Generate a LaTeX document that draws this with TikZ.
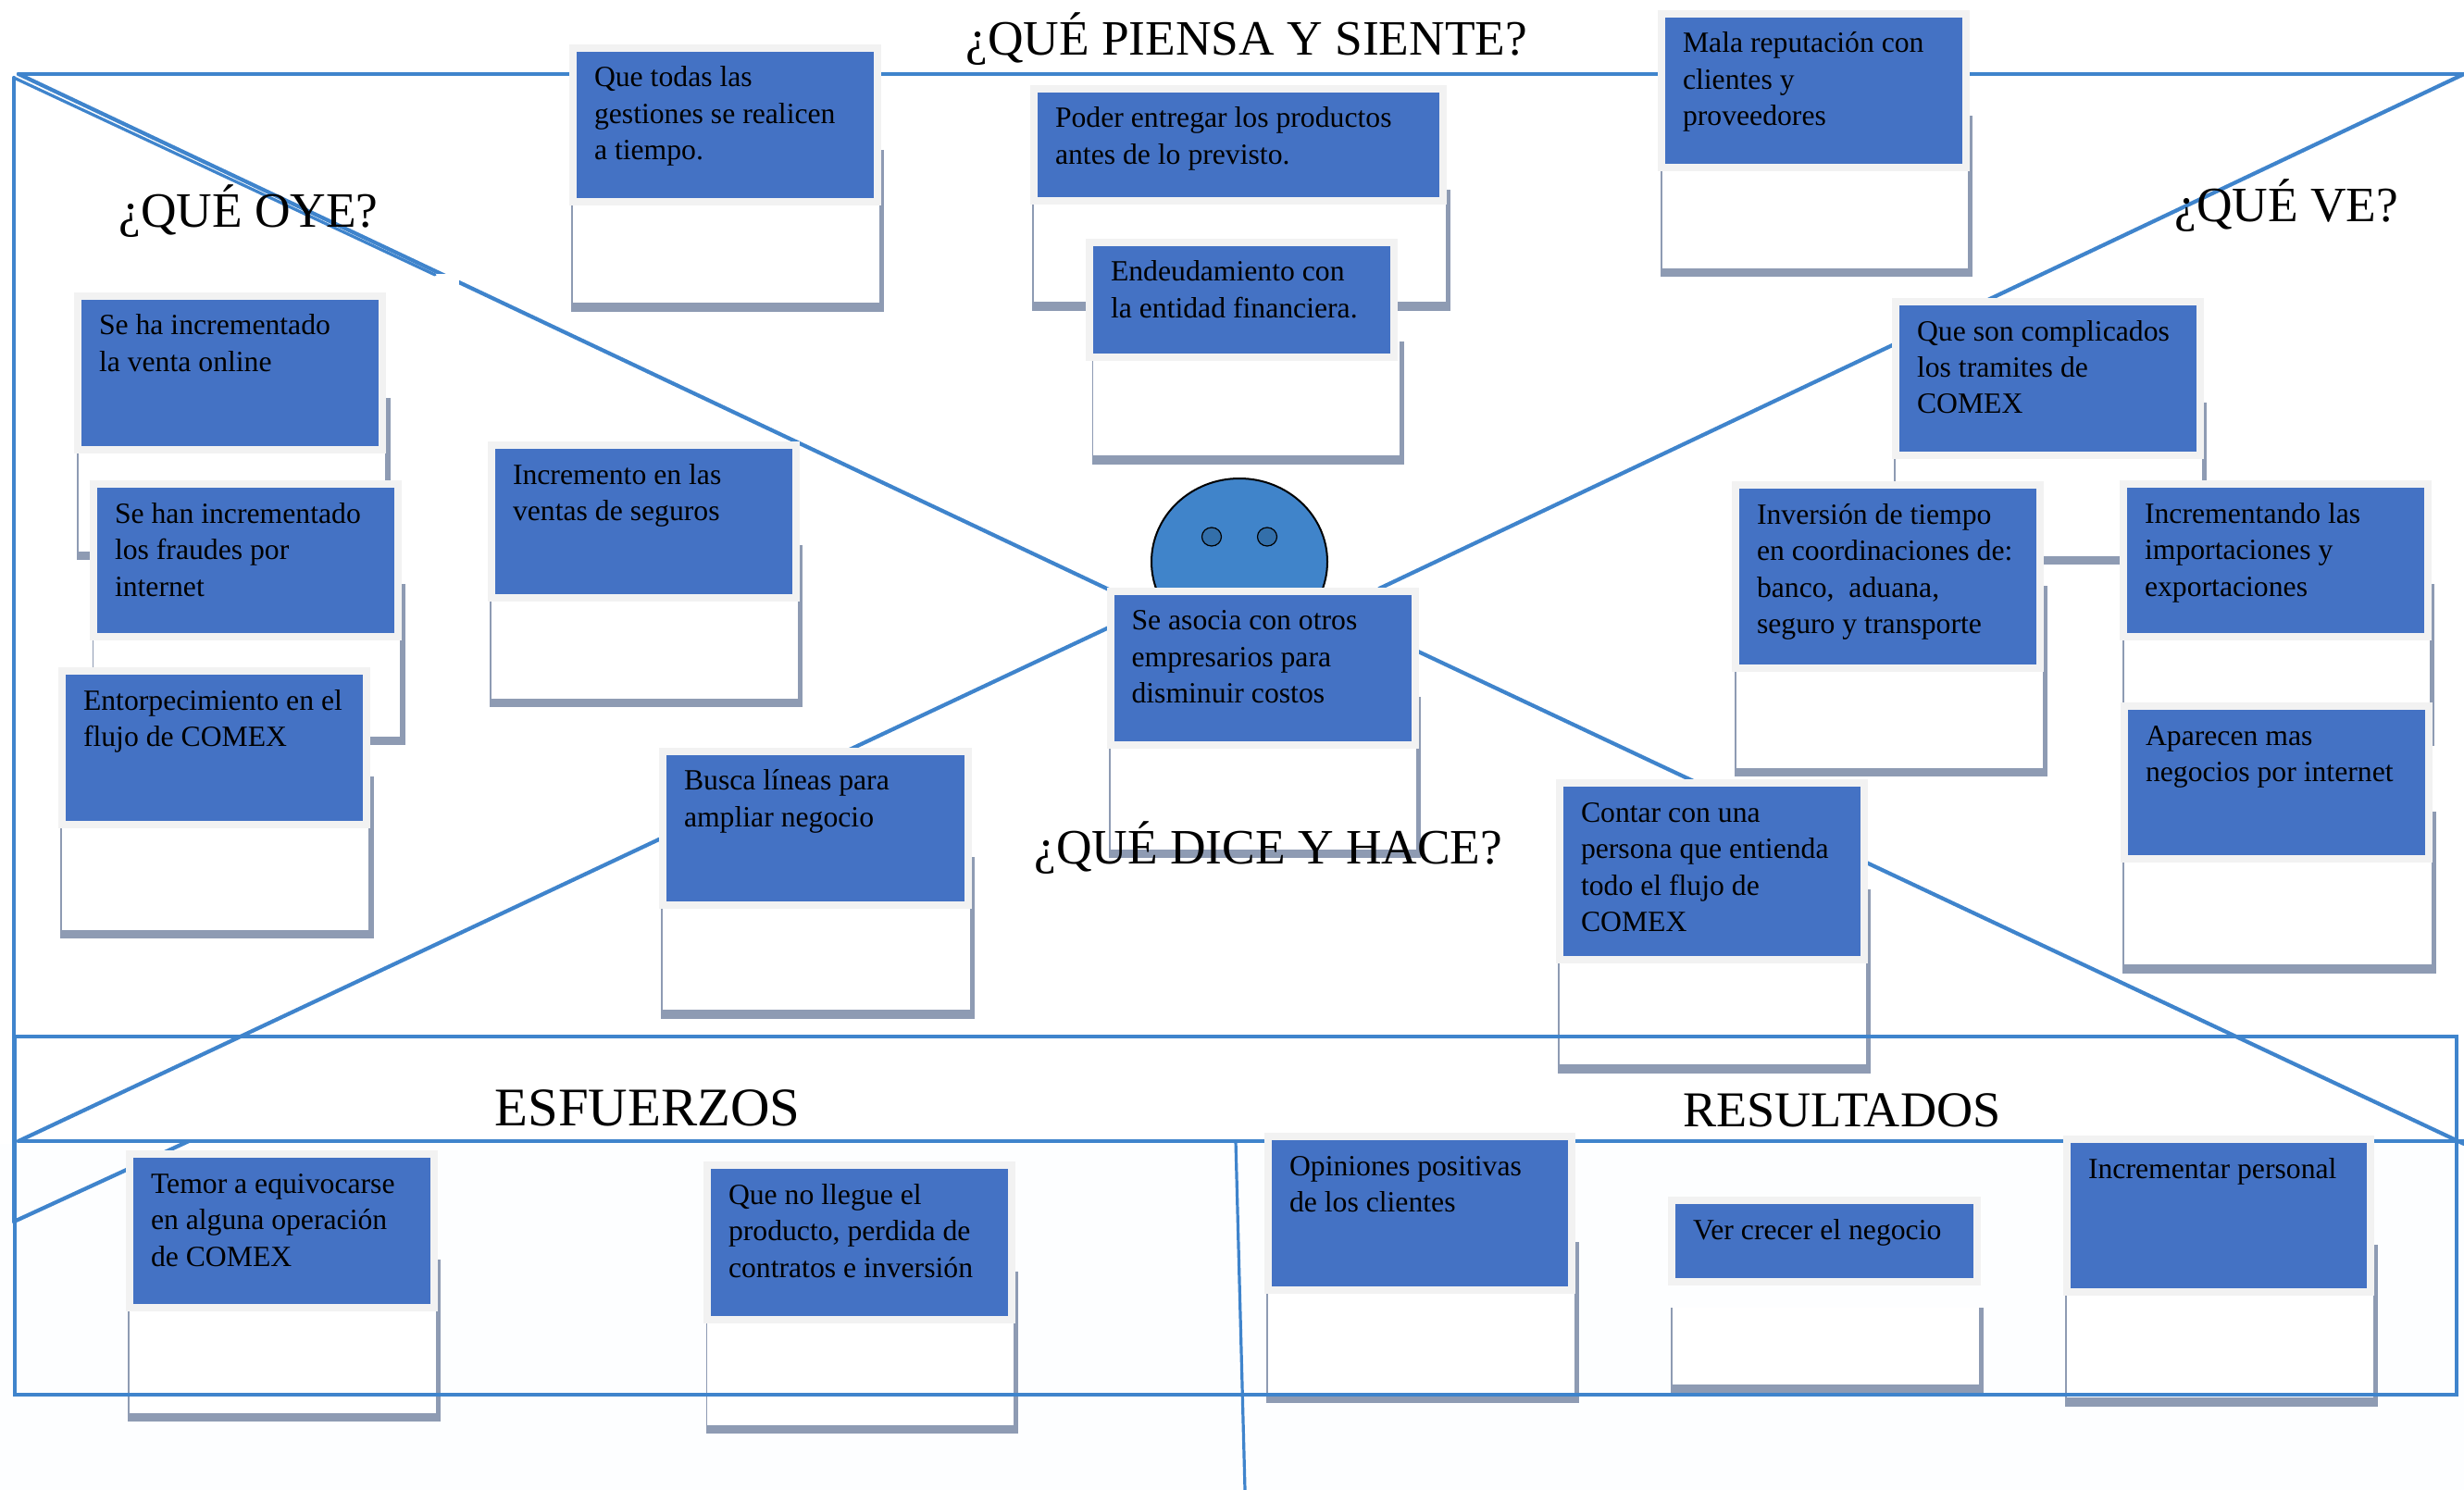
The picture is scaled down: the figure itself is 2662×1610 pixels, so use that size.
\documentclass[tikz,border=0pt]{standalone}
\usepackage{fontspec}
\setmainfont{Liberation Serif}
\definecolor{cardblue}{HTML}{4472C4}
\definecolor{cardedge}{HTML}{F2F2F2}
\definecolor{shadowc}{HTML}{8E9BB3}
\definecolor{framec}{HTML}{3F84CC}
\definecolor{headc}{HTML}{4084CA}
\definecolor{eyec}{HTML}{336FAA}
\definecolor{tint}{HTML}{FDFEFF}
\tikzset{
  cardbox/.style={draw=cardedge,line width=4pt,fill=cardblue,inner sep=0pt,outer sep=0pt,text=black,font=\fontsize{15.85}{19.75}\selectfont},
  framepath/.style={draw=framec,line width=2.1pt,line cap=round},
  titletext/.style={anchor=base west,inner sep=0pt,font=\fontsize{26.7}{30}\selectfont},
  bigtitle/.style={anchor=base west,inner sep=0pt,font=\fontsize{29.4}{32}\selectfont},
  restitle/.style={anchor=base west,inner sep=0pt,font=\fontsize{27.1}{30}\selectfont}
}
\newcommand\shbox[4]{\fill[shadowc] (#1,#2) rectangle (#3,#4);\fill[white] ({#1+1.5},#2) rectangle ({#3-5.5},{#4-9.5});}
\newcommand\card[6]{%
  \pgfmathsetmacro\cw{(#4-8)*0.5}\pgfmathsetmacro\ch{(#5-8)*0.5}%
  \node[cardbox] (#1) at ({#2+#4/2},{#3+#5/2}) {\parbox[c][\ch pt][t]{\cw pt}{\raggedright\leftskip=11.5pt\rule{0pt}{21pt}#6}};}
\begin{document}
\begin{tikzpicture}[x=0.5pt,y=-0.5pt]
\useasboundingbox (0,0) rectangle (2662,1610);
\fill[white] (0,0) rectangle (2662,1610);
\fill[tint] (0,1236) rectangle (2662,1610);
% named ends of the frame lines
\coordinate (tl) at (20,80);
\coordinate (tlb) at (15,84);
\coordinate (tr) at (2662,80);
\coordinate (ml) at (20,1233);
\coordinate (mr) at (2662,1233);
\coordinate (lowl) at (15,1320);
\coordinate (lowm) at (204,1233);
\coordinate (c1) at (1200,638);
\coordinate (c2) at (1490,636);
\coordinate (c3) at (1198,678);
\coordinate (c4) at (1530,703);
\coordinate (c5) at (2662,1236);
\coordinate (g1) at (470,297);
% frame
\draw[framepath,line width=2.2pt] (tl) -- (tr);
\draw[framepath] (tlb) -- (lowl);
\draw[framepath] (tl) -- (c1);
\draw[framepath,line width=1.6pt] (tlb) -- (g1);
\draw[framepath] (tr) -- (c2);
\draw[framepath] (ml) -- (c3);
\draw[framepath] (lowl) -- (lowm);
\draw[framepath] (c4) -- (c5);
\draw[framepath] (ml) -- (mr);
\fill[white] (472,296) rectangle (496,309);
% head
\draw[fill=headc,draw=black,line width=1pt] (1339,607) ellipse [x radius=95,y radius=90];
\draw[fill=eyec,draw=black,line width=0.6pt] (1309,580) ellipse [x radius=10.5,y radius=10];
\draw[fill=eyec,draw=black,line width=0.6pt] (1369,580) ellipse [x radius=10.5,y radius=10];
% cards
\shbox{617}{162}{955}{337}
\card{todas}{615}{48}{337}{174}{Que todas las\\gestiones se realicen\\a tiempo.}
\shbox{83}{430}{421.5}{605}
\card{seha}{80}{316}{337}{174}{Se ha incrementado\\la venta online}
\shbox{99.5}{631}{437.5}{805}
\card{sehan}{97}{519}{337}{173}{Se han incrementado\\los fraudes por\\internet}
\shbox{65}{839}{403.5}{1014}
\card{entor}{63}{721}{337}{174}{Entorpecimiento en el\\flujo de COMEX}
\shbox{529}{589}{867}{764}
\card{segur}{527}{477}{337}{173}{Incremento en las\\ventas de seguros}
\shbox{1115}{205}{1567}{336}
\card{poder}{1113}{92}{450}{129}{Poder entregar los productos\\antes de lo previsto.}
\shbox{1179.5}{369}{1517}{502}
\card{deuda}{1173}{258}{337}{132}{Endeudamiento con\\la entidad financiera.}
\shbox{1794}{125}{2131}{299.5}
\card{mala}{1791}{11}{337}{174}{Mala reputación con\\clientes y\\proveedores}
\shbox{2046}{435}{2384}{610}
\card{tram}{2044}{322}{337}{174}{Que son complicados\\los tramites de\\COMEX}
\shbox{1874}{633}{2212}{839}
\card{inver}{1871}{520}{337}{206}{Inversión de tiempo\\en coordinaciones de:\\banco,\ \ aduana,\\seguro y transporte}
\shbox{2293}{631}{2630}{806}
\card{impor}{2290}{519}{337}{173}{Incrementando las\\importaciones y\\exportaciones}
\shbox{2293}{877}{2632}{1051.5}
\card{apar}{2291}{759}{337}{173}{Aparecen mas\\negocios por internet}
\shbox{1198}{753}{1535}{927}
\card{asocia}{1195.5}{634.6}{337}{174}{Se asocia con otros\\empresarios para\\disminuir costos}
\shbox{714}{926}{1053}{1100.7}
\card{busca}{712}{807.5}{338}{174.5}{Busca líneas para\\ampliar negocio}
\shbox{1683}{961}{2021}{1159.5}
\card{contar}{1681}{842}{337}{199}{Contar con una\\persona que entienda\\todo el flujo de\\COMEX}
\shbox{138}{1361}{476}{1536}
\card{temor}{136}{1243}{337}{174}{Temor a equivocarse\\en alguna operación\\de COMEX}
\shbox{762.5}{1374}{1100}{1549}
\card{queno}{760}{1255}{337}{175}{Que no llegue el\\producto, perdida de\\contratos e inversión}
\shbox{1368}{1342}{1706}{1516}
\card{opin}{1366}{1224}{336}{174}{Opiniones positivas\\de los clientes}
\shbox{1805}{1413}{2143}{1505}
\card{crecer}{1802}{1293}{338}{96}{Ver crecer el negocio}
\shbox{2231}{1345}{2569}{1519.5}
\card{perso}{2229}{1227}{336}{173}{Incrementar personal}
% lower frame
\coordinate (ra) at (16,1120);
\coordinate (rb) at (2654,1507);
\draw[draw=framec,line width=1.9pt] (ra) rectangle (rb);
\coordinate (va) at (1335,1233);
\coordinate (vb) at (1345,1610);
\draw[draw=framec,line width=1.6pt] (va) -- (vb);
% titles
\node[titletext] (t1) at (1043,60) {¿QUÉ PIENSA Y SIENTE?};
\node[titletext] (t2) at (128,246) {¿QUÉ OYE?};
\node[titletext] (t3) at (2349,240) {¿QUÉ VE?};
\node[titletext] (t4) at (1117,933) {¿QUÉ DICE Y HACE?};
\node[bigtitle] (t5) at (534,1216) {ESFUERZOS};
\node[restitle] (t6) at (1818,1217) {RESULTADOS};
\end{tikzpicture}
\end{document}
